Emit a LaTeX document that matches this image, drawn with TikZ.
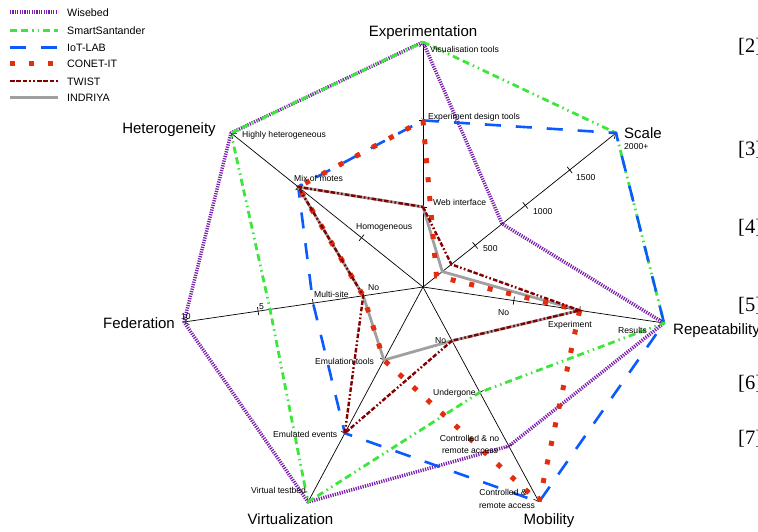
\documentclass[tikz,border=0pt]{standalone}
\usepackage{fontspec}
\setmainfont{Liberation Sans}
\newfontfamily\serifref{Liberation Serif}
\usetikzlibrary{calc,arrows.meta}
\definecolor{wisecol}{RGB}{120,30,170}
\definecolor{santcol}{RGB}{60,230,60}
\definecolor{iotcol}{RGB}{10,90,255}
\definecolor{conetcol}{RGB}{228,45,15}
\definecolor{twistcol}{RGB}{130,0,0}
\definecolor{indcol}{RGB}{160,160,160}
\tikzset{
  axisline/.style={draw=black, line width=0.7pt},
  axisarrow/.style={axisline, -{Straight Barb[length=4.5pt,width=7pt,line width=0.6pt]}},
  tickmark/.style={draw=black, line width=0.7pt},
  axislabel/.style={font=\fontsize{15}{17}\selectfont, inner sep=0pt},
  ticklabel/.style={font=\fontsize{8.6}{10}\selectfont, inner sep=0pt},
  legtext/.style={font=\fontsize{10.7}{12}\selectfont, inner sep=0pt, anchor=base west},
  reftext/.style={font=\fontsize{20.5}{22}\selectfont\serifref, inner sep=0pt, anchor=base west},
  wiseline/.style={draw=wisecol, line width=3.5pt, dash pattern=on 1.2pt off 1.2pt, line join=round},
  santline/.style={draw=santcol, line width=2.8pt, dash pattern=on 7pt off 4pt on 7pt off 4pt on 1.5pt off 4pt on 1.5pt off 4pt},
  iotline/.style={draw=iotcol, line width=2.6pt, dash pattern=on 16pt off 15pt},
  conetline/.style={draw=conetcol, line width=5pt, dash pattern=on 5pt off 14pt},
  twistline/.style={draw=twistcol, line width=2.4pt, dash pattern=on 4.5pt off 1.8pt on 4.5pt off 1.8pt on 4.5pt off 2pt on 1.7pt off 2.3pt on 1.7pt off 2.3pt},
  indline/.style={draw=indcol, line width=2.8pt, line join=round}
}
\begin{document}
\begin{tikzpicture}[x=1pt,y=-1pt]
\useasboundingbox (0,0) rectangle (758,531);
% centre and axis ends
\coordinate (O) at (423,287);
\coordinate (A1) at (423,42);
\coordinate (A2) at (616,133);
\coordinate (A3) at (664,323);
\coordinate (A4) at (539,502);
\coordinate (A5) at (308,502);
\coordinate (A6) at (184,322);
\coordinate (A7) at (231,133);
% axes
\foreach \i in {1,...,7} {\draw[axisarrow] (O) -- (A\i);}
% ticks
\foreach \i/\f/\n in {1/0.327/a, 1/0.68/b, 2/0.27/a, 2/0.53/b, 2/0.76/c, 3/0.377/a, 3/0.65/b,
  4/0.25/a, 4/0.49/b, 4/0.74/c, 5/0.34/a, 5/0.68/b, 6/0.25/a, 6/0.46/b, 6/0.69/c, 7/0.32/a, 7/0.65/b} {
  \coordinate (T\i\n) at ($(O)!\f!(A\i)$);
  \draw[tickmark] ($(T\i\n)!4pt!90:(A\i)$) -- ($(T\i\n)!4pt!-90:(A\i)$);
}
% series vertices
\foreach \s/\vals in {w/{1,0.41,1,0.74,1,1,1}, g/{1,1,1,0.49,1,0.64,1}, b/{0.68,1,1,1,0.68,0.46,0.65},
  r/{0.68,0.07,0.65,1,0.34,0.25,0.65}, t/{0.327,0.147,0.65,0.25,0.68,0.25,0.65}, n/{0.327,0.10,0.65,0.25,0.34,0.25,0.65}} {
  \foreach \v [count=\i] in \vals {\coordinate (\s\i) at ($(O)!\v!(A\i)$);}
}
% series
\draw[wiseline] (w1) -- (w2) -- (w3) -- (w4) -- (w5) -- (w6) -- (w7) -- cycle;
\draw[santline] (g1) -- (g2) -- (g3) -- (g4) -- (g5) -- (g6) -- (g7) -- cycle;
\draw[iotline] (b1) -- (b2) -- (b3) -- (b4) -- (b5) -- (b6) -- (b7) -- cycle;
\draw[indline] (n1) -- (n2) -- (n3) -- (n4) -- (n5) -- (n6) -- (n7) -- cycle;
\draw[conetline] (r1) -- (r2) -- (r3) -- (r4) -- (r5) -- (r6) -- (r7) -- cycle;
\draw[twistline] (t1) -- (t2) -- (t3) -- (t4) -- (t5) -- (t6) -- (t7) -- cycle;
% axis labels
\node[axislabel, anchor=base] (lexp) at (423,36) {Experimentation};
\node[axislabel, anchor=base west] (lsca) at (624,138) {Scale};
\node[axislabel, anchor=base west] (lrep) at (673,334) {Repeatability};
\node[axislabel, anchor=base] (lmob) at (549,524) {Mobility};
\node[axislabel, anchor=base] (lvir) at (290.5,524) {Virtualization};
\node[axislabel, anchor=base east] (lfed) at (175,328) {Federation};
\node[axislabel, anchor=base] (lhet) at (169,133) {Heterogeneity};
% tick labels
\node[ticklabel, anchor=base west] (k11) at (430,52) {Visualisation tools};
\node[ticklabel, anchor=base west] (k12) at (428,119.5) {Experiment design tools};
\node[ticklabel, anchor=base west] (k13) at (433,205) {Web interface};
\node[ticklabel, anchor=base west] (k21) at (624,149) {2000+};
\node[ticklabel, anchor=base west] (k22) at (576,180) {1500};
\node[ticklabel, anchor=base west] (k23) at (533,214) {1000};
\node[ticklabel, anchor=base west] (k24) at (483,251) {500};
\node[ticklabel, anchor=base west] (k31) at (498,315) {No};
\node[ticklabel, anchor=base west] (k32) at (548,327) {Experiment};
\node[ticklabel, anchor=base west] (k33) at (618,333) {Results};
\node[ticklabel, anchor=base west] (k41) at (435,343) {No};
\node[ticklabel, anchor=base west] (k42) at (433,395) {Undergone};
\node[ticklabel, anchor=base] (k43) at (469.5,441) {Controlled \& no};
\node[ticklabel, anchor=base] (k44) at (470,453) {remote access};
\node[ticklabel, anchor=base] (k45) at (503,495) {Controlled \&};
\node[ticklabel, anchor=base] (k46) at (507,508) {remote access};
\node[ticklabel, anchor=base west] (k51) at (315,364) {Emulation tools};
\node[ticklabel, anchor=base west] (k52) at (273,437) {Emulated events};
\node[ticklabel, anchor=base west] (k53) at (251,493) {Virtual testbed};
\node[ticklabel, anchor=base west] (k61) at (368,290) {No};
\node[ticklabel, anchor=base west] (k62) at (314,297) {Multi-site};
\node[ticklabel, anchor=base west] (k63) at (259,309) {5};
\node[ticklabel, anchor=base west] (k64) at (181,319) {10};
\node[ticklabel, anchor=base west] (k71) at (356,229) {Homogeneous};
\node[ticklabel, anchor=base west] (k72) at (294,181) {Mix of motes};
\node[ticklabel, anchor=base west] (k73) at (242,137) {Highly heterogeneous};
% legend
\coordinate (L1a) at (10,12);    \coordinate (L1b) at (58,12);
\coordinate (L2a) at (10,30.7);  \coordinate (L2b) at (58,30.7);
\coordinate (L3a) at (10,47.7);  \coordinate (L3b) at (58,47.7);
\coordinate (L4a) at (10,63.3);  \coordinate (L4b) at (58,63.3);
\coordinate (L5a) at (10,81);    \coordinate (L5b) at (58,81);
\coordinate (L6a) at (10,97.3);  \coordinate (L6b) at (58,97.3);
\draw[wiseline] (L1a) -- (L1b);
\draw[santline] (L2a) -- (L2b);
\draw[iotline] (L3a) -- (L3b);
\draw[conetline] (L4a) -- (L4b);
\draw[twistline] (L5a) -- (L5b);
\draw[indline] (L6a) -- (L6b);
\node[legtext] (g1t) at (67,16.2) {Wisebed};
\node[legtext] (g2t) at (67,34.8) {SmartSantander};
\node[legtext] (g3t) at (67,51.7) {IoT-LAB};
\node[legtext] (g4t) at (67,67.5) {CONET-IT};
\node[legtext] (g5t) at (67,85.2) {TWIST};
\node[legtext] (g6t) at (67,101.5) {INDRIYA};
% references at right edge
\node[reftext] (r2t) at (738,52) {[2]};
\node[reftext] (r3t) at (738,155) {[3]};
\node[reftext] (r4t) at (738,233) {[4]};
\node[reftext] (r5t) at (738,311) {[5]};
\node[reftext] (r6t) at (738,389) {[6]};
\node[reftext] (r7t) at (738,444) {[7]};
\end{tikzpicture}
\end{document}
